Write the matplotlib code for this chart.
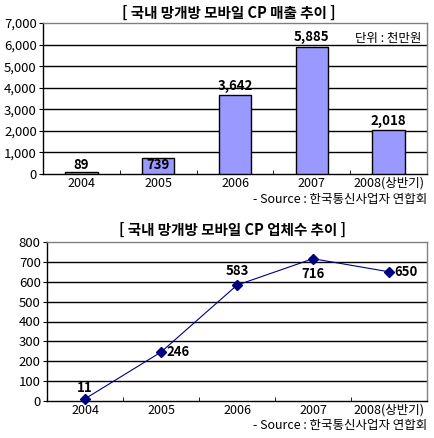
import matplotlib
matplotlib.use("Agg")
import matplotlib.pyplot as plt
import numpy as np

plt.rcParams['font.family'] = ['Noto Sans CJK KR', 'DejaVu Sans']

categories = ['2004', '2005', '2006', '2007', '2008(상반기)']
sales = [89, 739, 3642, 5885, 2018]
companies = [11, 246, 583, 716, 650]
sales_ticks = [0, 1000, 2000, 3000, 4000, 5000, 6000, 7000]
comp_ticks = [0, 100, 200, 300, 400, 500, 600, 700, 800]

title1 = '[ 국내 망개방 모바일 CP 매출 추이 ]'
title2 = '[ 국내 망개방 모바일 CP 업체수 추이 ]'
unit_text = '단위 : 천만원'
source_text = '- Source : 한국통신사업자 연합회'

W, H = 435, 438
fig = plt.figure(figsize=(W / 100, H / 100), dpi=100)

def style(ax, ticks, fmt):
    x = np.arange(len(categories))
    ax.set_xlim(-0.5, len(categories) - 0.5)
    ax.set_ylim(ticks[0], ticks[-1])
    ax.set_yticks(ticks)
    ax.set_yticklabels([fmt(t) for t in ticks], fontsize=9.5)
    ax.set_xticks(x)
    ax.set_xticklabels(categories, fontsize=9)
    ax.tick_params(axis='x', length=0, pad=2)
    ax.tick_params(axis='y', length=3, pad=1.5, direction='out')
    ax.set_xticks(np.arange(len(categories) + 1) - 0.5, minor=True)
    ax.tick_params(axis='x', which='minor', length=3, direction='in')
    for t in ticks[1:-1]:
        ax.axhline(t, color='black', lw=1, zorder=1)
    ax.spines['left'].set_color('black')
    ax.spines['bottom'].set_color('black')
    ax.spines['top'].set_color('#808080')
    ax.spines['right'].set_color('#808080')
    for s in ax.spines.values():
        s.set_linewidth(1)

# top bar chart
ax1 = fig.add_axes([43 / W, 1 - 174 / H, (427 - 43) / W, (174 - 23) / H])
style(ax1, sales_ticks, lambda t: f'{t:,}')
x = np.arange(len(categories))
ax1.bar(x, sales, width=0.42, color='#9999FF', edgecolor='black', linewidth=1, zorder=3)
for xi, v in zip(x, sales):
    yv = v + 460 if v > 1000 else 420
    ax1.text(xi, yv, f'{v:,}', ha='center', va='center', fontsize=9.5, fontweight='bold', zorder=4)
ax1.text(0.985, 0.9, unit_text, transform=ax1.transAxes, ha='right', va='center', fontsize=9)

fig.text(229 / W, 1 - 13 / H, title1, ha='center', va='center', fontsize=10.5, fontweight='bold')
fig.text(427 / W, 1 - 200 / H, source_text, ha='right', va='center', fontsize=9)

# bottom line chart
ax2 = fig.add_axes([47 / W, 1 - 401 / H, (427 - 47) / W, (401 - 242) / H])
style(ax2, comp_ticks, lambda t: f'{t}')
ax2.plot(x, companies, color='#000080', lw=0.8, marker='D', markersize=5,
         markerfacecolor='#000080', markeredgecolor='#000080', zorder=4, clip_on=False)
offsets = [(0, 3, 'center', 'bottom'), (4, 0, 'left', 'center'), (0, 5, 'center', 'bottom'),
           (0, -6, 'center', 'top'), (4, 0, 'left', 'center')]
for xi, v, (dx, dy, ha, va) in zip(x, companies, offsets):
    ax2.annotate(f'{v}', (xi, v), xytext=(dx, dy), textcoords='offset points',
                 ha=ha, va=va, fontsize=9.5, fontweight='bold', zorder=5)

fig.text(233 / W, 1 - 230 / H, title2, ha='center', va='center', fontsize=10.5, fontweight='bold')
fig.text(427 / W, 1 - 426 / H, source_text, ha='right', va='center', fontsize=9)

fig.savefig('out.png', dpi=100)
